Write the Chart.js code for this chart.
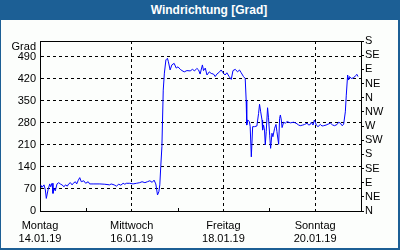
<!DOCTYPE html>
<html>
<head>
<meta charset="utf-8">
<script src="https://cdn.jsdelivr.net/npm/chart.js@4"></script>
<style>
  html, body { margin: 0; padding: 0; }
  body { width: 400px; height: 250px; position: relative; overflow: hidden; font-family: 'Liberation Sans', Arial, sans-serif; }
  #frame { position: absolute; left: 0; top: 0; width: 400px; height: 250px; box-sizing: border-box;
           background: #fcfefc; border-left: 1px solid #1c5f95; border-right: 2px solid #1c5f95; border-bottom: 2px solid #1c5f95; }
  #title { position: absolute; left: 0; top: 0; width: 400px; height: 20px; background: #1c5f95; color: #fff;
           font: bold 12px 'Liberation Sans', Arial, sans-serif; line-height: 20px; text-align: center;
           box-sizing: border-box; padding-left: 18px; }
  #chart { position: absolute; left: 0; top: 0; }
</style>
</head>
<body>
<div id="frame"></div>
<canvas id="chart" width="400" height="250"></canvas>
<div id="title">Windrichtung [Grad]</div>
<script>
// Stunden ab 14.01.19 00:00
const hours = [0.4, 1.0, 2.1, 2.8, 3.3, 4.2, 5.1, 5.6, 6.3, 6.8, 7.3, 8.0, 8.9, 9.8, 10.6, 11.5, 12.6, 13.3, 14.3, 15.0,
  15.9, 16.8, 17.4, 18.5, 19.2, 19.9, 20.8, 21.6, 22.9, 23.9, 25.2, 26.0, 27.8, 31.3, 33.9, 36.5, 37.2, 38.8, 40.0, 41.2,
  42.3, 43.5, 44.4, 45.2, 47.0, 48.7, 50.5, 52.2, 53.4, 54.9, 56.2, 57.5, 58.7, 59.7, 60.6, 61.5, 62.2, 62.7, 63.2, 63.8,
  64.5, 65.1, 65.9, 66.7, 67.2, 68.1, 69.0, 70.2, 71.3, 72.2, 73.4, 74.3, 75.5, 76.9, 78.6, 79.8, 80.9, 82.1, 83.0, 83.8,
  85.0, 85.6, 86.5, 87.4, 88.6, 89.6, 90.8, 91.7, 92.6, 94.0, 94.8, 96.1, 96.9, 97.8, 99.0, 100.1, 101.0, 102.2, 103.4, 104.4,
  105.3, 106.5, 107.4, 107.9, 108.2, 108.7, 109.6, 110.0, 110.6, 111.3, 112.3, 113.5, 114.4, 114.9, 115.5, 116.2, 116.5, 117.0, 117.5, 117.9,
  118.4, 119.1, 119.6, 120.2, 120.7, 121.4, 121.9, 122.8, 123.5, 124.0, 124.9, 125.4, 125.8, 126.3, 126.7, 127.5, 128.4, 129.3, 131.0, 132.7,
  134.0, 135.4, 136.2, 137.5, 138.5, 139.8, 140.6, 141.5, 142.0, 142.9, 143.6, 144.1, 144.6, 145.5, 146.7, 147.6, 148.5, 149.7, 150.8, 152.0,
  153.2, 154.2, 155.5, 156.3, 157.2, 158.1, 158.9, 159.8, 160.3, 161.0, 161.5, 162.0, 162.9, 164.1, 165.0, 165.9, 166.4];
const grad = [83, 75, 83, 67, 40, 67, 86, 77, 88, 56, 72, 64, 86, 90, 86, 83, 77, 83, 79, 86,
  90, 83, 88, 93, 86, 96, 106, 93, 96, 88, 93, 86, 86, 86, 85, 83, 86, 83, 79, 85,
  82, 88, 85, 88, 88, 86, 88, 90, 93, 90, 93, 96, 91, 98, 86, 51, 61, 83, 141, 204,
  384, 438, 480, 485, 474, 448, 464, 469, 454, 458, 450, 446, 442, 446, 445, 450, 445, 453, 448, 435,
  464, 446, 454, 432, 442, 437, 435, 427, 435, 442, 448, 437, 432, 439, 427, 418, 446, 450, 442, 448,
  439, 427, 421, 352, 273, 289, 284, 268, 172, 268, 268, 270, 310, 339, 315, 289, 257, 273, 257, 210,
  252, 328, 296, 241, 199, 247, 236, 263, 275, 252, 212, 294, 305, 289, 265, 282, 279, 284, 280, 282,
  279, 273, 271, 273, 275, 279, 273, 275, 282, 273, 289, 282, 273, 268, 275, 270, 271, 273, 276, 279,
  273, 271, 275, 282, 279, 271, 275, 315, 368, 432, 416, 427, 421, 423, 429, 434, 427];

const xTicks = [0, 48, 96, 144];
const xLabels = [['Montag', '14.01.19'], ['Mittwoch', '16.01.19'], ['Freitag', '18.01.19'], ['Sonntag', '20.01.19']];
const xMinor = [24, 72, 120];
const gradTicks = [0, 70, 140, 210, 280, 350, 420, 490];
const dirTicks = [0, 45, 90, 135, 180, 225, 270, 315, 360, 405, 450, 495, 540];
const dirLabels = ['N', 'NE', 'E', 'SE', 'S', 'SW', 'W', 'NW', 'N', 'NE', 'E', 'SE', 'S'];

Chart.defaults.font.family = "'Liberation Sans', Arial, sans-serif";
Chart.defaults.font.size = 11;
Chart.defaults.color = '#000';

// Rahmen oben, "Grad" und kleine Tagesstriche
const extras = {
  id: 'extras',
  afterDraw(chart) {
    const ctx = chart.ctx;
    const a = chart.chartArea;
    const xs = chart.scales.x;
    ctx.save();
    ctx.strokeStyle = '#000';
    ctx.lineWidth = 1;
    ctx.beginPath();
    ctx.moveTo(a.left, Math.round(a.top) + 0.5);
    ctx.lineTo(a.right, Math.round(a.top) + 0.5);
    xMinor.forEach(h => {
      const px = Math.round(xs.getPixelForValue(h)) + 0.5;
      ctx.moveTo(px, a.bottom - 3);
      ctx.lineTo(px, a.bottom + 1);
    });
    ctx.stroke();
    ctx.fillStyle = '#000';
    ctx.font = "11px 'Liberation Sans', Arial, sans-serif";
    ctx.textAlign = 'right';
    ctx.textBaseline = 'middle';
    ctx.fillText('Grad', a.left - 4, a.top + 6);
    ctx.restore();
  }
};

new Chart(document.getElementById('chart'), {
  type: 'line',
  data: {
    datasets: [{
      data: hours.map((h, i) => ({ x: h, y: grad[i] })),
      borderColor: '#0000ff',
      borderWidth: 1,
      pointRadius: 0,
      tension: 0,
      yAxisID: 'y'
    }]
  },
  options: {
    responsive: false,
    animation: false,
    devicePixelRatio: 1,
    layout: { padding: { top: 41, left: 0, right: 0, bottom: 0 } },
    plugins: { legend: { display: false }, tooltip: { enabled: false } },
    scales: {
      x: {
        type: 'linear',
        min: 0,
        max: 168,
        afterBuildTicks: s => { s.ticks = xTicks.map(v => ({ value: v })); },
        afterFit: s => { s.height = 39; },
        ticks: {
          autoSkip: false,
          maxRotation: 0,
          padding: 8,
          font: { size: 11, lineHeight: 1.2 },
          callback: (v, i) => xLabels[i]
        },
        grid: {
          color: ctx => ctx.tick && ctx.tick.value === 0 ? 'rgba(0,0,0,0)' : '#000',
          drawTicks: false
        },
        border: { color: '#000', dash: [3, 3] }
      },
      y: {
        position: 'left',
        min: 0,
        max: 540,
        afterBuildTicks: s => { s.ticks = gradTicks.map(v => ({ value: v })); },
        afterFit: s => { s.width = 40; },
        ticks: { padding: 4, autoSkip: false },
        grid: {
          color: ctx => ctx.tick && ctx.tick.value === 0 ? 'rgba(0,0,0,0)' : '#000',
          drawTicks: false
        },
        border: { color: '#000', dash: [3, 3] }
      },
      y2: {
        position: 'right',
        min: 0,
        max: 540,
        afterBuildTicks: s => { s.ticks = dirTicks.map(v => ({ value: v })); },
        afterFit: s => { s.width = 39; },
        ticks: { padding: 1, autoSkip: false, callback: (v, i) => dirLabels[i] },
        grid: { drawOnChartArea: false, drawTicks: true, tickLength: 3, color: '#000' },
        border: { color: '#000' }
      }
    }
  },
  plugins: [extras]
});
</script>
</body>
</html>
